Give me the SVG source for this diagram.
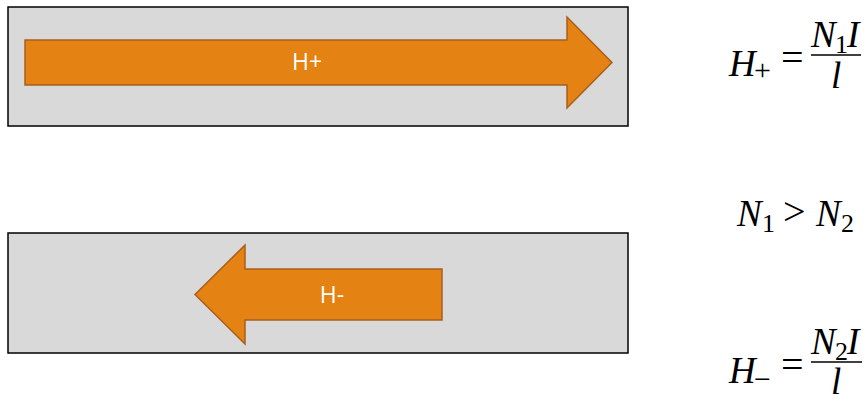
<svg xmlns="http://www.w3.org/2000/svg" width="868" height="403" viewBox="0 0 868 403">
<style>
.box{fill:#d9d9d9;stroke:#000;stroke-width:1.5}
.arrow{fill:#e48213;stroke:#a85f1c;stroke-width:1.5;stroke-linejoin:miter}
.lbl{font-family:"Open Sans","Liberation Sans",sans-serif;font-size:23px;fill:#fff;text-anchor:middle}
.m{font-family:"Liberation Serif",serif;font-style:italic;font-size:37px;fill:#000}
.r{font-family:"Liberation Serif",serif;font-size:40px;fill:#000}
.s{font-family:"Liberation Serif",serif;font-size:26px;fill:#000}
.o{font-family:"Liberation Serif",serif;font-size:30px;fill:#000}
.bar{stroke:#000;stroke-width:1.6}
</style>
<rect width="868" height="403" fill="#fff"/>
<g id="box-top">
<rect class="box" x="8" y="7" width="620" height="119"/>
</g>
<g id="arrow-hplus">
<polygon class="arrow" points="25,40 567,40 567,17 612,62.5 567,108 567,85 25,85"/>
<text class="lbl" x="307" y="70">H+</text>
</g>
<g id="box-bottom">
<rect class="box" x="8" y="233" width="620" height="120"/>
</g>
<g id="arrow-hminus">
<polygon class="arrow" points="442,269 245,269 245,245 195,294.5 245,344 245,320 442,320"/>
<text class="lbl" x="332" y="303">H-</text>
</g>
<g id="eq-hplus">
<text class="m" x="729" y="76">H</text>
<text class="o" x="754" y="80">+</text>
<text class="r" x="781" y="71">=</text>
<line class="bar" x1="811" y1="55" x2="861" y2="55"/>
<text class="m" x="811" y="47">N</text>
<text class="s" x="835" y="53">1</text>
<text class="m" x="847" y="47">I</text>
<text class="m" x="831" y="88">l</text>
</g>
<g id="eq-ineq">
<text class="m" x="737" y="226">N</text>
<text class="s" x="762" y="232">1</text>
<text class="r" x="783" y="225">&gt;</text>
<text class="m" x="816" y="226">N</text>
<text class="s" x="841" y="232">2</text>
</g>
<g id="eq-hminus">
<text class="m" x="729" y="383">H</text>
<text class="o" x="754" y="389">−</text>
<text class="r" x="781" y="378">=</text>
<line class="bar" x1="811" y1="362" x2="862" y2="362"/>
<text class="m" x="811" y="354">N</text>
<text class="s" x="835" y="360">2</text>
<text class="m" x="847" y="354">I</text>
<text class="m" x="831" y="394">l</text>
</g>
</svg>
